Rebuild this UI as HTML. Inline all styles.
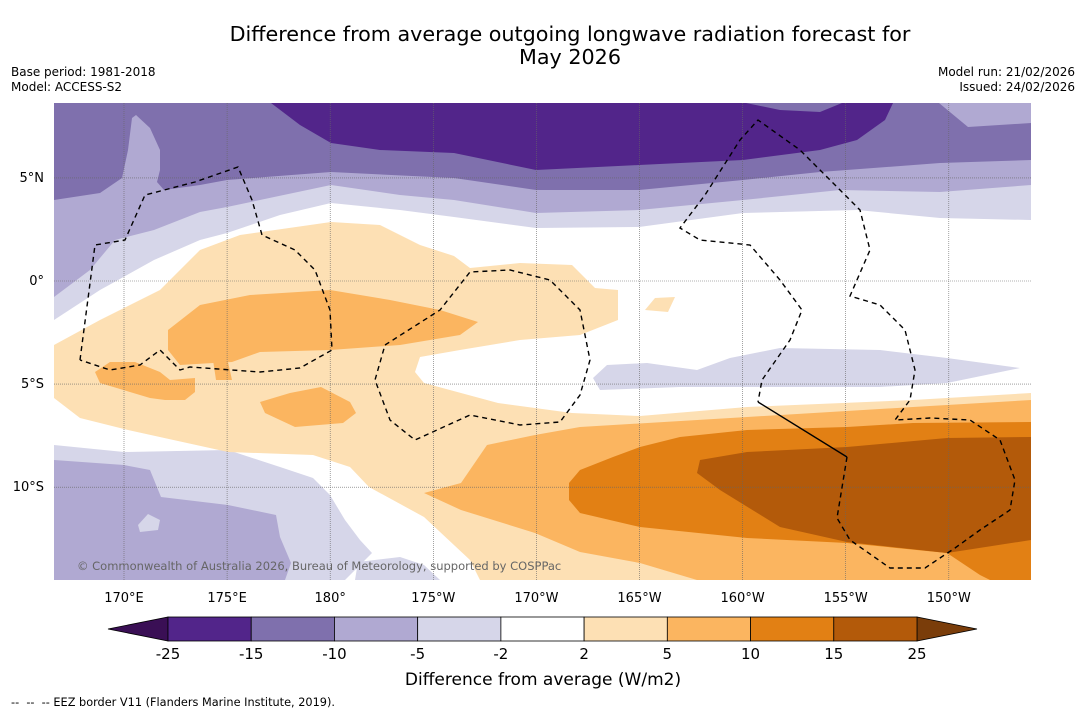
<!DOCTYPE html>
<html><head><meta charset="utf-8"><style>
body{margin:0;background:#fff;font-family:"Liberation Sans",sans-serif;}
svg text{font-family:"DejaVu Sans","Liberation Sans",sans-serif;}
</style></head><body>
<svg id="s" width="1085" height="713" viewBox="0 0 1085 713" xmlns="http://www.w3.org/2000/svg">
<rect width="1085" height="713" fill="#fff"/>
<text x="570" y="41" font-size="20.7" text-anchor="middle">Difference from average outgoing longwave radiation forecast for</text>
<text x="570" y="64" font-size="20.7" text-anchor="middle">May 2026</text>
<text x="11" y="76" font-size="12">Base period: 1981-2018</text>
<text x="11" y="91" font-size="12">Model: ACCESS-S2</text>
<text x="1075" y="76" font-size="12" text-anchor="end">Model run: 21/02/2026</text>
<text x="1075" y="91" font-size="12" text-anchor="end">Issued: 24/02/2026</text>
<defs><clipPath id="mc"><rect x="54" y="103" width="977" height="477"/></clipPath></defs>
<g id="map" clip-path="url(#mc)"></g>
<g id="grid"></g>
<g id="eez" clip-path="url(#mc)"></g>
<text x="77" y="570" font-size="11.5" fill="#666">© Commonwealth of Australia 2026, Bureau of Meteorology, supported by COSPPac</text>
<g id="ticks"></g>
<g id="cbar"></g>
<text x="543" y="685" font-size="17" text-anchor="middle">Difference from average (W/m2)</text>
<text x="11" y="706" font-size="11.3" xml:space="preserve">--  --  -- EEZ border V11 (Flanders Marine Institute, 2019).</text>
</svg>
<script>
const lonTicks=[170,175,180,185,190,195,200,205,210];
const lonLabels=["170°E","175°E","180°","175°W","170°W","165°W","160°W","155°W","150°W"];
const latTicks=[5,0,-5,-10];
const latLabels=["5°N","0°","5°S","10°S"];
const levels=["-25","-15","-10","-5","-2","2","5","10","15","25"];
const levelColors=["#52258a","#7f70ad","#b0a9d2","#d6d6e9","#ffffff","#fde0b4","#fbb560","#e28014","#b35a0a"];
const x=lon=>124+(lon-170)*20.62;
const y=lat=>281-lat*20.62;
const NS="http://www.w3.org/2000/svg";
function mk(t,p){const e=document.createElementNS(NS,t);for(const k in p)e.setAttribute(k,p[k]);return e;}
const map=document.getElementById('map');
const shapes=[
["#d6d6e9","54,103 1031,103 1031,220 940,218 857,210 743,213 639,227 536,228 454,217 400,210 331,203 280,215 227,233 200,240 154,260 100,290 54,320"],
["#b0a9d2","54,103 1031,103 1031,185 940,192 840,190 743,200 639,210 536,213 454,200 400,195 331,185 227,207 200,212 154,230 115,240 90,270 54,297"],
["#7f70ad","54,103 1031,103 1031,160 940,163 820,172 743,180 639,190 536,190 454,178 331,172 227,180 200,185 164,190 157,182 160,170 160,150 150,128 136,115 132,118 128,150 122,178 100,193 54,200"],
["#b0a9d2","939,103 1031,103 1031,123 968,127"],
["#52258a","271,103 893,103 885,120 857,140 820,150 743,160 639,165 536,170 454,153 380,150 331,143 300,125"],
["#7f70ad","746,103 842,103 820,112 780,110"],
["#d6d6e9","54,445 124,452 228,450 280,467 313,478 330,495 345,520 360,540 372,553 345,580 54,580"],
["#d6d6e9","358,562 400,557 424,565 440,580 355,580"],
["#b0a9d2","54,460 124,465 150,470 161,497 228,505 276,515 280,537 291,563 285,580 54,580"],
["#d6d6e9","138,525 148,514 160,520 158,530 140,532"],
["#fde0b4","54,345 100,320 160,290 200,250 240,235 331,222 380,225 420,245 454,256 470,268 520,263 572,265 595,288 618,290 618,320 580,335 520,340 460,350 420,357 415,372 424,383 498,403 572,413 640,416 747,407 913,400 1031,393 1031,580 480,580 470,560 424,517 369,487 350,467 313,455 228,452 128,430 80,418 54,398"],
["#fde0b4","645,310 655,298 675,297 668,312"],
["#d6d6e9","593,378 607,365 647,363 697,370 730,358 780,348 880,350 947,358 1020,368 947,383 880,387 780,387 680,387 600,390"],
["#fbb560","168,330 200,305 250,295 330,290 390,300 440,310 478,322 460,335 400,345 330,350 260,352 232,362 213,363 180,365 168,350"],
["#fbb560","213,360 228,362 232,380 216,380"],
["#fbb560","95,372 110,362 135,362 160,372 170,380 195,378 195,392 185,400 165,400 150,398 100,383"],
["#fbb560","260,402 290,393 321,387 350,402 356,413 343,423 295,427 265,413"],
["#fbb560","424,493 461,483 487,445 535,435 580,427 747,417 913,407 1031,400 1031,580 697,580 640,563 580,552 535,533 461,510"],
["#e28014","569,483 580,470 613,457 640,447 680,437 747,430 847,427 913,423 1031,422 1031,580 990,580 980,575 947,553 847,543 747,538 640,527 580,513 569,500"],
["#b35a0a","697,473 700,460 747,452 847,447 947,438 1031,437 1031,540 947,553 847,542 780,527 720,490"]
];
shapes.forEach((s,i)=>{const p=mk('polygon',{points:s[1],fill:s[0]});


map.appendChild(p);});
const eez=document.getElementById('eez');
const eezPaths=["80,360 95,245 125,240 145,195 195,182 238,167 252,200 262,235 295,250 315,270 330,310 332,350 300,368 260,372 190,367 180,370 160,350 140,365 110,370 80,360",
"385,345 440,310 470,272 510,270 550,280 580,310 590,360 580,395 560,422 520,425 470,415 415,440 390,420 375,380 385,345",
"847,457 837,518 850,540 890,568 925,568 955,548 980,530 1010,510 1015,480 1000,440 970,420 930,418 895,420 910,400 915,370 905,330 880,305 850,296 870,250 860,210 830,180 800,150 758,120 740,140 705,195 680,228 700,240 750,245 780,280 802,310 790,340 762,380 758,402"];
eezPaths.forEach((d,i)=>{const p=mk('polyline',{points:d,fill:'none',stroke:'#000','stroke-width':1.4,'stroke-dasharray':'5,4'});


eez.appendChild(p);});
const sl=mk('polyline',{points:"758,402 847,457",fill:'none',stroke:'#000','stroke-width':1.4});


eez.appendChild(sl);
const grid=document.getElementById('grid'),ticks=document.getElementById('ticks');
lonTicks.forEach((l,i)=>{const g=mk('line',{x1:x(l),x2:x(l),y1:103,y2:580,stroke:'#666','stroke-width':0.6,'stroke-dasharray':'1,1'});


grid.appendChild(g);
const t=mk('text',{x:x(l),y:602,'font-size':13,'text-anchor':'middle'});t.textContent=lonLabels[i];


ticks.appendChild(t);});
latTicks.forEach((l,i)=>{const g=mk('line',{x1:54,x2:1031,y1:y(l),y2:y(l),stroke:'#666','stroke-width':0.6,'stroke-dasharray':'1,1'});


grid.appendChild(g);
const t=mk('text',{x:44,y:y(l)+4,'font-size':13,'text-anchor':'end'});t.textContent=latLabels[i];


ticks.appendChild(t);});
const cb=document.getElementById('cbar');const cx0=168,cx1=917,cy=617,ch=24,w=(cx1-cx0)/levelColors.length;
const l1=mk('polygon',{points:`108,${cy+ch/2} ${cx0},${cy} ${cx0},${cy+ch}`,fill:'#3a0f55',stroke:'#000','stroke-width':0.8});


cb.appendChild(l1);
const r1=mk('polygon',{points:`977,${cy+ch/2} ${cx1},${cy} ${cx1},${cy+ch}`,fill:'#7a3d0a',stroke:'#000','stroke-width':0.8});


cb.appendChild(r1);
levelColors.forEach((c,i)=>{const r=mk('rect',{x:cx0+i*w,y:cy,width:w,height:ch,fill:c,stroke:'#000','stroke-width':0.8});


cb.appendChild(r);});
levels.forEach((v,i)=>{const t=mk('text',{x:cx0+i*w,y:659,'font-size':15,'text-anchor':'middle'});t.textContent=v;


cb.appendChild(t);});
</script>
</body></html>
